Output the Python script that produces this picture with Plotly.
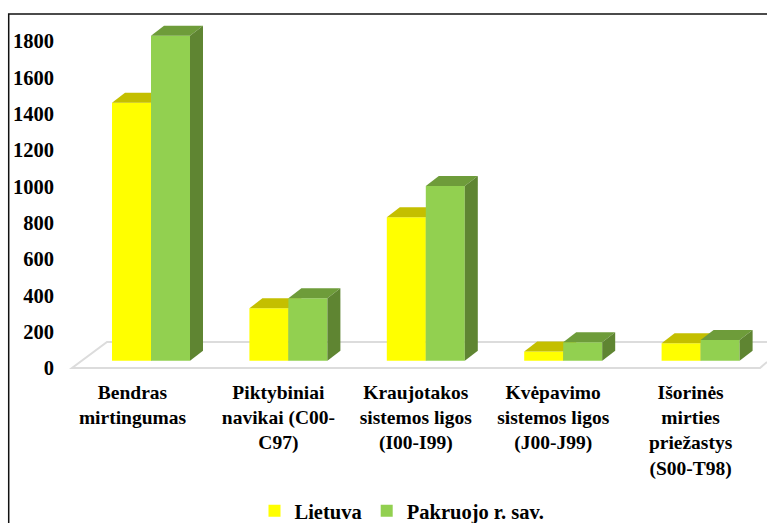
import plotly.graph_objects as go

categories = ["Bendras<br>mirtingumas", "Piktybiniai<br>navikai (C00-<br>C97)",
              "Kraujotakos<br>sistemos ligos<br>(I00-I99)", "Kvėpavimo<br>sistemos ligos<br>(J00-J99)",
              "Išorinės<br>mirties<br>priežastys<br>(S00-T98)"]
lietuva = [1421, 289, 791, 50, 96]
pakruojo = [1791, 344, 962, 101, 114]
y_ticks = [0, 200, 400, 600, 800, 1000, 1200, 1400, 1600, 1800]

W, H = 767, 523
L, R, T, B = 58, 0, 15, 145
PX_X = 137.4          # pixels per category
PX_Y = 0.1815         # pixels per value unit
X0_PX = 151.0         # pixel centre of first group
Y0_PX = 368.0         # pixel of tick label 0
BASE = 7.3 / PX_Y     # bars stand behind the front floor edge
BAR_W = 39 / PX_X
DX, DY = 13 / PX_X, 10 / PX_Y
LABEL_SHIFT = [-18.5 / PX_X, -10 / PX_X, -10 / PX_X, -10 / PX_X, -10 / PX_X]

xr = [(L - X0_PX) / PX_X, (W - R - X0_PX) / PX_X]
yr = [(Y0_PX - (H - B)) / PX_Y, (Y0_PX - T) / PX_Y]
idx = list(range(len(categories)))


def faces(values, lefts, color_top, color_side, yaxis):
    out = []
    for i, v in zip(idx, values):
        x0 = i + lefts
        x1 = x0 + BAR_W
        top = v + BASE
        out.append(go.Scatter(x=[x0, x0 + DX, x1 + DX, x1, x0], y=[top, top + DY, top + DY, top, top],
                              mode="lines", fill="toself", fillcolor=color_top, line=dict(width=0),
                              showlegend=False, hoverinfo="skip", yaxis=yaxis))
        out.append(go.Scatter(x=[x1, x1 + DX, x1 + DX, x1, x1], y=[BASE, BASE + DY, top + DY, top, BASE],
                              mode="lines", fill="toself", fillcolor=color_side, line=dict(width=0),
                              showlegend=False, hoverinfo="skip", yaxis=yaxis))
    return out


fig = go.Figure()
fig.add_trace(go.Bar(name="Lietuva", x=[i - BAR_W / 2 for i in idx], y=lietuva, base=BASE, width=BAR_W,
                     marker=dict(color="#FFFF00", line=dict(width=0)), yaxis="y"))
for t in faces(lietuva, -BAR_W, "#C4BF00", "#C4BF00", "y"):
    fig.add_trace(t)
fig.add_trace(go.Bar(name="Pakruojo r. sav.", x=[i + BAR_W / 2 for i in idx], y=pakruojo, base=BASE, width=BAR_W,
                     marker=dict(color="#92D050", line=dict(width=0)), yaxis="y2"))
for t in faces(pakruojo, 0, "#6E9C3A", "#5F8532", "y2"):
    fig.add_trace(t)


def px(x):
    return (x - L) / (W - L - R)


def py(y):
    return 1 - (y - T) / (H - T - B)


def path(points):
    return "M " + " L ".join(f"{px(a):.5f},{py(b):.5f}" for a, b in points)


floor = [(767, 342), (107, 342), (72, 368), (760, 368), (767, 362)]
frame = [(8.7, 523), (8.7, 14), (767, 14)]
shapes = [
    dict(type="path", xref="paper", yref="paper", path=path(floor), line=dict(color="#DCDCDC", width=2), layer="below"),
    dict(type="path", xref="paper", yref="paper", path=path(frame), line=dict(color="#111111", width=1.5), layer="above"),
]

x_font = dict(family="Liberation Serif", size=19.5, color="black", weight="bold")
y_font = dict(family="Liberation Serif", size=20.5, color="black", weight="bold")
fig.update_layout(
    width=W, height=H, margin=dict(l=L, r=R, t=T, b=B, autoexpand=False),
    paper_bgcolor="white", plot_bgcolor="rgba(0,0,0,0)", barmode="overlay", shapes=shapes,
    font=y_font,
    xaxis=dict(range=xr, tickmode="array", tickvals=[i + s for i, s in zip(idx, LABEL_SHIFT)], ticktext=categories,
               tickfont=x_font, tickangle=0, ticks="", showgrid=False, zeroline=False, showline=False),
    yaxis=dict(range=yr, tickmode="array", tickvals=y_ticks, ticktext=[str(v) for v in y_ticks], tickfont=y_font,
               ticks="", showgrid=False, zeroline=False, showline=False, ticklabelstandoff=3),
    yaxis2=dict(range=yr, overlaying="y", visible=False),
    legend=dict(orientation="h", x=px(402), xanchor="center", xref="paper", y=py(511), yanchor="middle", yref="paper",
                font=y_font, bgcolor="rgba(0,0,0,0)", traceorder="normal"),
)
fig.write_html("out.html", config={"displayModeBar": False},
               post_script="document.body.style.margin='0';document.documentElement.style.overflow='hidden';")
